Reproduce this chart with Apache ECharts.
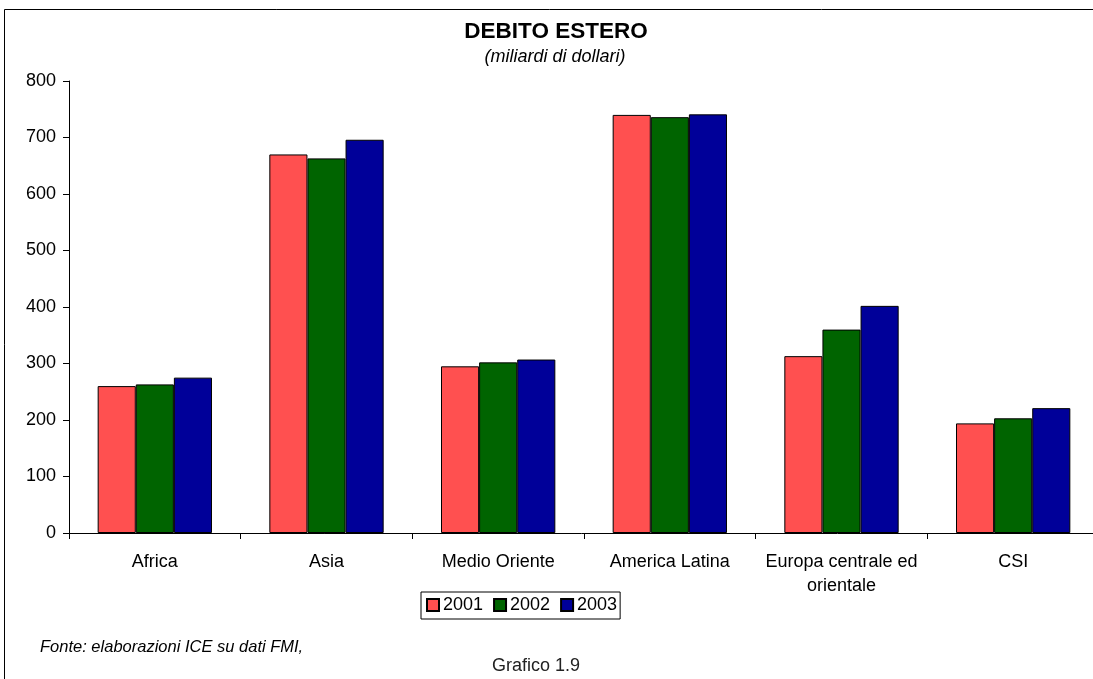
<!DOCTYPE html>
<html>
<head>
<meta charset="utf-8">
<script src="https://cdn.jsdelivr.net/npm/echarts@6/dist/echarts.min.js"></script>
<style>
  html, body { margin: 0; padding: 0; background: #fff; }
  #chart { width: 1093px; height: 679px; }
</style>
</head>
<body>
<div id="chart"></div>
<script type="text/javascript">
// aree geografiche
var categories = ['Africa', 'Asia', 'Medio Oriente', 'America Latina', 'Europa centrale ed\norientale', 'CSI'];
var years = ['2001', '2002', '2003'];
// debito estero, miliardi di dollari
var v2001 = [260, 670, 295, 740, 313, 194];
var v2002 = [263, 663, 302, 736, 360, 203];
var v2003 = [275, 696, 307, 741, 402, 221];
var yTicks = [0, 100, 200, 300, 400, 500, 600, 700, 800];
var colors = ['#FF5050', '#006400', '#000099'];

var FONT = '"Liberation Sans", Arial, sans-serif';

function barSeries(name, data, color) {
    return {
        name: name,
        type: 'bar',
        data: data,
        barGap: '0%',
        barCategoryGap: '33.4%',
        itemStyle: { color: color, borderColor: '#000', borderWidth: 1 },
        emphasis: { disabled: true }
    };
}

var myChart = echarts.init(document.getElementById('chart'));
var option = {
    animation: false,
    backgroundColor: '#fff',
    textStyle: { fontFamily: FONT },
    // the plot runs a little past the right edge, as in the original
    grid: { left: 69, width: 1030, top: 81, height: 452, containLabel: false, outerBoundsMode: 'none' },
    legend: {
        data: years,
        left: 421,
        top: 592,
        orient: 'horizontal',
        icon: 'rect',
        itemWidth: 12,
        itemHeight: 12,
        itemGap: 10,
        padding: [4, 3, 5, 5],
        borderColor: '#000',
        borderWidth: 1,
        textStyle: { fontFamily: FONT, fontSize: 18, color: '#000', padding: [0, 0, 0, -1] }
    },
    xAxis: {
        type: 'category',
        data: categories,
        axisLine: { lineStyle: { color: '#000', width: 1 } },
        axisTick: { show: true, length: 6, lineStyle: { color: '#000' } },
        axisLabel: { fontFamily: FONT, fontSize: 18, color: '#000', margin: 17, lineHeight: 24, interval: 0 }
    },
    yAxis: {
        type: 'value',
        min: yTicks[0],
        max: yTicks[yTicks.length - 1],
        interval: 100,
        splitLine: { show: false },
        axisLine: { show: true, lineStyle: { color: '#000', width: 1 } },
        axisTick: { show: true, length: 6, lineStyle: { color: '#000' } },
        axisLabel: { fontFamily: FONT, fontSize: 18, color: '#000', margin: 13 }
    },
    graphic: [
        {
            type: 'rect',
            silent: true,
            shape: { x: 4.5, y: 9.5, width: 1200, height: 800 },
            style: { fill: 'none', stroke: '#000', lineWidth: 1 }
        },
        {
            type: 'text', x: 556, y: 20,
            style: { text: 'DEBITO ESTERO', textAlign: 'center', font: 'bold 22.5px ' + FONT, fill: '#000' }
        },
        {
            type: 'text', x: 555, y: 48,
            style: { text: '(miliardi di dollari)', textAlign: 'center', font: 'italic 18px ' + FONT, fill: '#000' }
        },
        {
            type: 'text', x: 40, y: 639,
            style: { text: 'Fonte: elaborazioni ICE su dati FMI,', textAlign: 'left', font: 'italic 16.5px ' + FONT, fill: '#000' }
        },
        {
            type: 'text', x: 536, y: 657,
            style: { text: 'Grafico 1.9', textAlign: 'center', font: '18px ' + FONT, fill: '#222' }
        }
    ],
    series: [
        barSeries(years[0], v2001, colors[0]),
        barSeries(years[1], v2002, colors[1]),
        barSeries(years[2], v2003, colors[2])
    ]
};
myChart.setOption(option);
</script>
</body>
</html>
